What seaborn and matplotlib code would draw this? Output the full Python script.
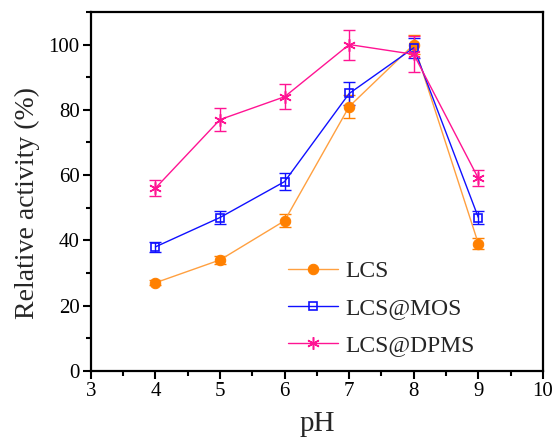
import matplotlib
matplotlib.use("Agg")
import matplotlib.pyplot as plt
from matplotlib.ticker import MultipleLocator
import seaborn as sns
import pandas as pd

ph = [4, 5, 6, 7, 8, 9]
lcs = [27, 34, 46, 81, 100, 39]
lcs_err = [0.8, 1.2, 2.0, 3.6, 3.0, 1.6]
mos = [38, 47, 58, 85, 99, 47]
mos_err = [1.6, 2.1, 2.5, 3.5, 3.0, 2.0]
dpms = [56, 77, 84, 100, 97, 59]
dpms_err = [2.5, 3.5, 3.8, 4.6, 5.5, 2.5]

names = ["LCS", "LCS@MOS", "LCS@DPMS"]
line_colors = {"LCS": "#FFA040", "LCS@MOS": "#1010FF", "LCS@DPMS": "#FF1493"}
mark_colors = {"LCS": "#FF8000", "LCS@MOS": "#1010FF", "LCS@DPMS": "#FF1493"}

sns.set_theme(style="ticks")
plt.rcParams["font.family"] = "serif"
plt.rcParams["font.serif"] = ["Liberation Serif", "Times New Roman", "DejaVu Serif"]

fig = plt.figure(figsize=(5.54, 4.41), dpi=100)
ax = fig.add_axes([0.164, 0.159, 0.816, 0.814])

styles = {
    "LCS": dict(marker="o", markersize=7.5, markerfacecolor=mark_colors["LCS"],
                markeredgecolor=mark_colors["LCS"]),
    "LCS@MOS": dict(marker="s", markersize=6, markerfacecolor="none",
                    markeredgecolor=mark_colors["LCS@MOS"], markeredgewidth=1.2),
    "LCS@DPMS": dict(marker=(6, 2, 0), markersize=9,
                     markeredgecolor=mark_colors["LCS@DPMS"], markeredgewidth=1.1),
}

for n, v, e in zip(names, [lcs, mos, dpms], [lcs_err, mos_err, dpms_err]):
    d = pd.DataFrame({"pH": ph, "act": v})
    ax.errorbar(ph, v, yerr=e, fmt="none", ecolor=mark_colors[n],
                elinewidth=1.0, capsize=4, capthick=1.0, zorder=2)
    sns.lineplot(data=d, x="pH", y="act", color=line_colors[n], linewidth=1.0,
                 label=n, ax=ax, zorder=3, **styles[n])

ax.set_xlim(3, 10)
ax.set_ylim(0, 110)
ax.xaxis.set_major_locator(MultipleLocator(1))
ax.xaxis.set_minor_locator(MultipleLocator(0.5))
ax.set_yticks([0, 20, 40, 60, 80, 100])
ax.yaxis.set_minor_locator(MultipleLocator(10))
ax.tick_params(which="both", direction="out", width=1.5, labelsize=15,
               top=False, right=False, colors="black", pad=2)
ax.tick_params(which="major", length=6)
ax.tick_params(which="minor", length=3.5)
for s in ax.spines.values():
    s.set_linewidth(1.6)
    s.set_color("black")
    s.set_visible(True)

ax.set_xlabel("pH", fontsize=21, labelpad=7)
ax.set_ylabel("Relative activity (%)", fontsize=20)
ax.yaxis.set_label_coords(-0.113, 0.468)

ax.legend(loc="upper left", bbox_to_anchor=(0.39, 0.366), frameon=False,
          fontsize=17, handlelength=2.1, labelspacing=0.65, handletextpad=0.3)

fig.savefig("out.png", dpi=100)
